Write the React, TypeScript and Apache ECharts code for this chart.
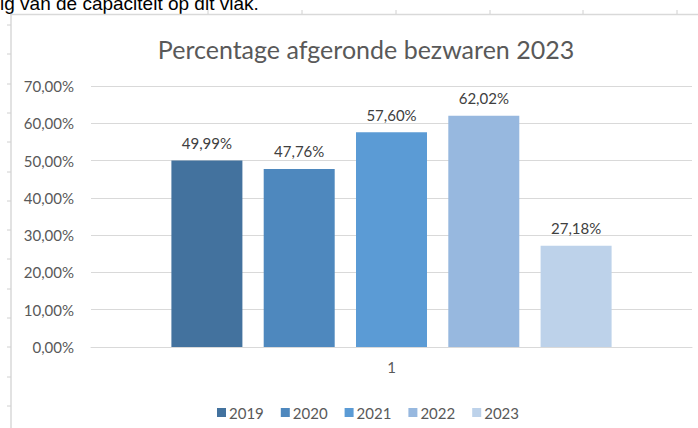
import React, { useEffect, useRef } from "react";
import * as echarts from "echarts";

const categories = ["1"];
const years = ["2019", "2020", "2021", "2022", "2023"];
const values = [49.99, 47.76, 57.6, 62.02, 27.18];
const colors = ["#43729E", "#4E88BE", "#5B9BD5", "#97B8DF", "#BDD2EA"];
const yTicks = { min: 0, max: 70, interval: 10 };
const titleText = "Percentage afgeronde bezwaren 2023";
const topText = "ig van de capaciteit op dit vlak.";

const fmtPct = (v: number) => v.toFixed(2).replace(".", ",") + "%";

export default function App() {
  const ref = useRef<HTMLDivElement>(null);
  useEffect(() => {
    if (!ref.current) return;
    const chart = echarts.init(ref.current, undefined, { renderer: "svg" });
    const FONT = "Lato";
    const topTicks = [208, 302, 396, 490, 583, 677];
    const leftTicks: number[] = [];
    for (let y = 25; y < 428; y += 29.3) leftTicks.push(Math.round(y));
    const deco: any[] = [
      {
        type: "text",
        style: {
          text: topText,
          x: 0,
          y: 3,
          verticalAlign: "middle",
          font: '19px "Liberation Sans"',
          fill: "#000",
        },
      },
      {
        type: "line",
        shape: { x1: 10, y1: 14.5, x2: 698, y2: 14.5 },
        style: { stroke: "#D9D9D9", lineWidth: 1.5 },
      },
      {
        type: "line",
        shape: { x1: 11, y1: 14, x2: 11, y2: 428 },
        style: { stroke: "#D9D9D9", lineWidth: 1.5 },
      },
      ...topTicks.map((x) => ({
        type: "line",
        shape: { x1: x, y1: 10, x2: x, y2: 14 },
        style: { stroke: "#D0D0D0", lineWidth: 1 },
      })),
      ...leftTicks.map((y) => ({
        type: "line",
        shape: { x1: 7, y1: y, x2: 11, y2: y },
        style: { stroke: "#D0D0D0", lineWidth: 1 },
      })),
    ];
    chart.setOption({
      animation: false,
      backgroundColor: "#fff",
      title: {
        text: titleText,
        left: 361,
        textAlign: "center",
        top: 31,
        textStyle: {
          fontFamily: FONT,
          fontSize: 25,
          fontWeight: "normal",
          color: "#595959",
        },
      },
      graphic: deco,
      legend: {
        data: years,
        left: 212,
        top: 400,
        itemWidth: 9,
        itemHeight: 9,
        itemGap: 17,
        icon: "rect",
        textStyle: { fontFamily: FONT, fontSize: 15, color: "#595959", padding: [0, 0, 0, -2] },
      },
      grid: { left: 91, right: 6, top: 86, bottom: 81, containLabel: false },
      xAxis: {
        type: "category",
        data: categories,
        axisLine: { lineStyle: { color: "#D9D9D9", width: 1 } },
        axisTick: { show: false },
        axisLabel: { fontFamily: FONT, fontSize: 15, color: "#595959", margin: 12 },
      },
      yAxis: {
        type: "value",
        min: yTicks.min,
        max: yTicks.max,
        interval: yTicks.interval,
        axisLine: { show: false },
        axisTick: { show: false },
        splitLine: { lineStyle: { color: "#D9D9D9", width: 1 } },
        axisLabel: {
          fontFamily: FONT,
          fontSize: 15,
          color: "#595959",
          margin: 17,
          formatter: (v: number) => fmtPct(v),
        },
      },
      series: years.map((y, i) => ({
        name: y,
        type: "bar",
        data: [values[i]],
        barWidth: 71,
        barGap: "30%",
        itemStyle: { color: colors[i] },
        label: {
          show: true,
          position: "top",
          distance: 10,
          fontFamily: FONT,
          fontSize: 15,
          color: "#404040",
          formatter: (p: any) => fmtPct(p.value),
        },
      })),
    });
    return () => chart.dispose();
  }, []);
  return (
    <div
      ref={ref}
      style={{ position: "absolute", left: 0, top: 0, width: 698, height: 428, background: "#fff" }}
    />
  );
}
